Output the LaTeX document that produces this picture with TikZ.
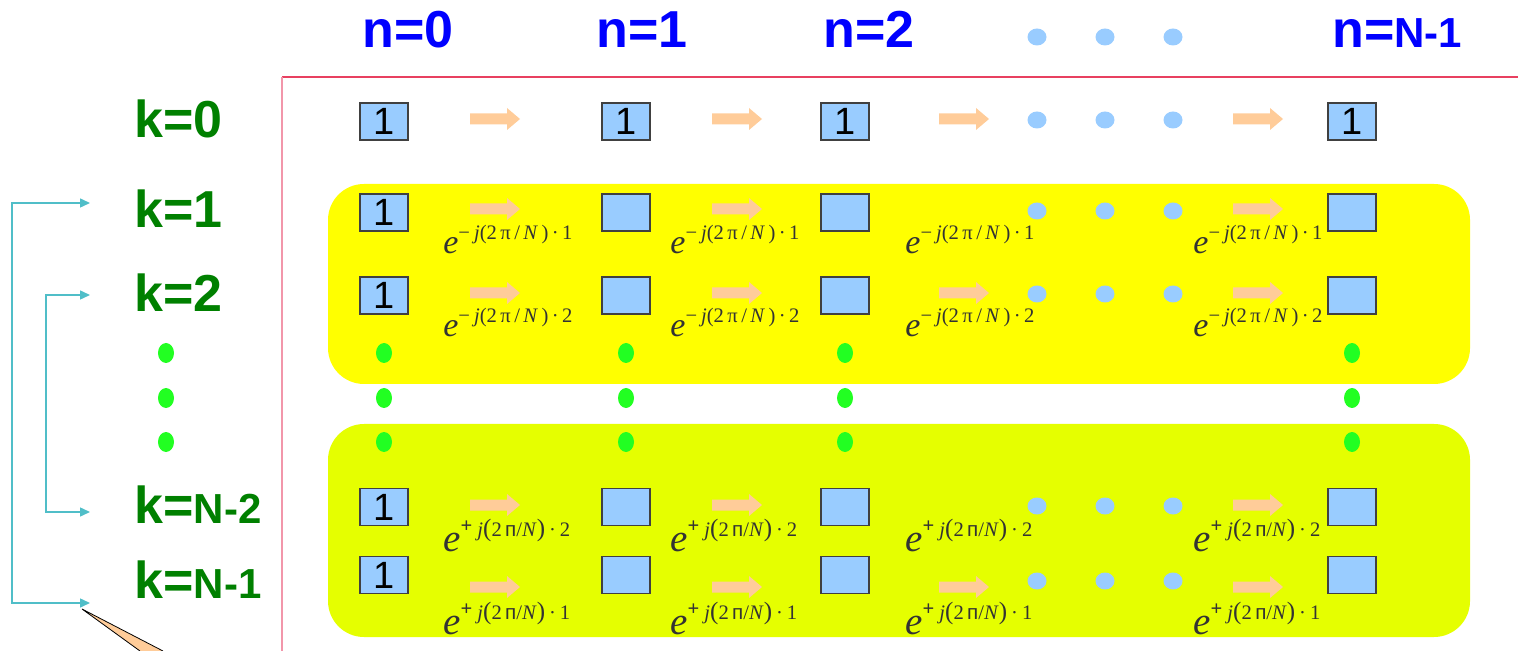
\documentclass[tikz,border=0pt]{standalone}
\usepackage{fontspec}
\setmainfont{Liberation Sans}
\newfontfamily\lser{Liberation Serif}
\newfontfamily\lsans{Liberation Sans}
\usetikzlibrary{arrows.meta,shapes.geometric}
\definecolor{hdrblue}{RGB}{0,0,255}
\definecolor{kgreen}{RGB}{0,128,0}
\definecolor{boxblue}{RGB}{153,204,255}
\definecolor{dotgreen}{RGB}{34,255,34}
\definecolor{arrorange}{RGB}{255,204,153}
\definecolor{panelA}{RGB}{255,255,0}
\definecolor{panelB}{RGB}{229,255,0}
\definecolor{axred}{RGB}{232,64,96}
\definecolor{axpink}{RGB}{242,150,170}
\definecolor{linkcyan}{RGB}{80,190,200}
\definecolor{labgray}{RGB}{51,51,51}
\newcommand{\mexp}[1]{{\fontsize{17}{17}\selectfont\itshape e}\raisebox{7pt}{\fontsize{10.3}{10.3}\selectfont −\kern2pt\textit{j}(2\,π\,/\,\textit{N}\,)\,·\,#1}}
\newcommand{\pexp}[1]{{\fontsize{19.5}{19.5}\selectfont\itshape e}\raisebox{7.5pt}{\fontsize{10.3}{10.3}\selectfont\raisebox{2pt}{\textbf{+}}\kern2.5pt\textit{j}{\fontsize{12.5}{12.5}\selectfont(}2\,{\lsans п}/\textit{N}{\fontsize{12.5}{12.5}\selectfont)}\kern2pt·\kern2pt#1}}
\tikzset{
 cell/.style={draw=black!75, line width=0.6pt, fill=boxblue, minimum width=24pt, minimum height=18.5pt, inner sep=0pt, font=\fontsize{19}{19}\selectfont},
 bdot/.style={ellipse, fill=boxblue, minimum width=9.5pt, minimum height=8.5pt, inner sep=0pt},
 gdot/.style={ellipse, fill=dotgreen, minimum width=8pt, minimum height=10pt, inner sep=0pt},
 nhead/.style={text=hdrblue, font=\bfseries\fontsize{26}{26}\selectfont, inner sep=0pt, anchor=base},
 klab/.style={text=kgreen, font=\bfseries\fontsize{26}{26}\selectfont, inner sep=0pt, anchor=base west},
 elab/.style={text=labgray, inner sep=0pt, anchor=base west, font=\lser},
 panel/.style={rounded corners=18pt},
 link/.style={draw=linkcyan, line width=0.75pt, {Triangle[length=5pt,width=4.5pt]}-{Triangle[length=5pt,width=4.5pt]}},
 barrow/.pic={\fill[arrorange] (-25,-5.5) -- (12,-5.5) -- (12,-11) -- (25,0) -- (12,11) -- (12,5.5) -- (-25,5.5) -- cycle;}
}
\begin{document}
\begin{tikzpicture}[x=0.5pt,y=-0.5pt]
\useasboundingbox (0,0) rectangle (1518,651);
% panels
\fill[panelA, panel] (328,184) rectangle (1470,384);
\fill[panelB, panel] (328,424) rectangle (1470,637);
% axes
\draw[axred, line width=0.8pt] (282,77) -- (1518,77);
\draw[axpink, line width=0.8pt] (282,77) -- (282,651);
% headers
\node[nhead] (n0) at (408,48) {n=0};
\node[nhead] (n1) at (642,48) {n=1};
\node[nhead] (n2) at (869,48) {n=2};
\node[nhead, anchor=base west] (nN) at (1332,48) {n={\fontsize{21}{21}\selectfont N-1}};
\foreach \x in {1037,1105,1173} \node[bdot] (hd\x) at (\x,37) {};
% k labels
\node[klab] (k0) at (134,138) {k=0};
\node[klab] (k1) at (134,228) {k=1};
\node[klab] (k2) at (134,312) {k=2};
\node[klab] (kN2) at (134,523) {k={\fontsize{21}{21}\selectfont N-2}};
\node[klab] (kN1) at (134,598) {k={\fontsize{21}{21}\selectfont N-1}};
% boxes
\foreach \c/\x in {0/384,1/626,2/845,3/1352} {
  \node[cell] (b0\c) at (\x,121.5) {1};
}
\foreach \r/\y in {1/212.5,2/295.5,3/507,4/575} {
  \node[cell] (b\r0) at (384,\y) {1};
  \foreach \c/\x in {1/626,2/845,3/1352} \node[cell] (b\r\c) at (\x,\y) {};
}
% block arrows
\foreach \y in {119,293,587} \foreach \x in {495,737,964,1258} \pic at (\x,\y) {barrow};
\foreach \y in {209,505} \foreach \x in {495,737,1258} \pic at (\x,\y) {barrow};
% blue dots
\foreach \r/\y in {0/120,1/211,2/294,3/506,4/581} \foreach \x in {1037,1105,1173} \node[bdot] (d\r\x) at (\x,\y) {};
% green dots
\foreach \y in {353,398,442} \foreach \x in {166,384,626,845,1352} \node[gdot] (g\x\y) at (\x,\y) {};
% labels
\foreach \x in {443,670,905,1193} {
  \node[elab] (ea\x) at (\x,254) {\mexp{1}};
  \node[elab] (eb\x) at (\x,337) {\mexp{2}};
  \node[elab] (ec\x) at (\x,551) {\pexp{2}};
  \node[elab] (ed\x) at (\x,634) {\pexp{1}};
}
% links
\coordinate (l1a) at (90,203);
\coordinate (l1b) at (90,603);
\coordinate (l2a) at (90,295);
\coordinate (l2b) at (90,512);
\draw[link] (l1a) -- ++(-78,0) |- (l1b);
\draw[link] (l2a) -- ++(-44,0) |- (l2b);
% callout pointer
\coordinate (ct) at (82,609);
\fill[arrorange] (140,651) -- (ct) -- (163,651) -- cycle;
\draw[black, line width=0.4pt] (140,651) -- (ct) -- (163,651);
\end{tikzpicture}
\end{document}
